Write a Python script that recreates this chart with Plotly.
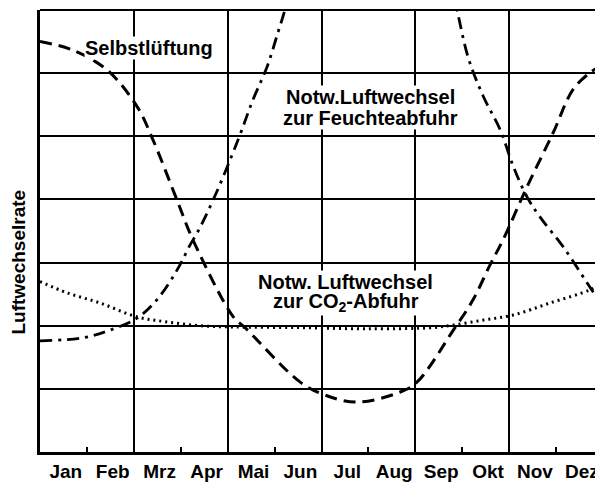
import plotly.graph_objects as go

months = ["Jan", "Feb", "Mrz", "Apr", "Mai", "Jun", "Jul", "Aug", "Sep", "Okt", "Nov", "Dez"]

# Selbstlüftung (natural ventilation)
selbst_x = [0.0, 0.68, 1.43, 2.07, 2.41, 2.92, 3.26, 4.12, 4.37, 5.54, 6.08, 6.76, 7.68, 8.04, 8.81, 9.23, 9.59, 9.87, 10.38, 10.94, 11.36, 11.73, 12.0]
selbst_y = [6.50, 6.37, 6.05, 5.47, 4.94, 3.99, 3.36, 2.14, 1.97, 1.11, 0.90, 0.79, 0.95, 1.11, 1.93, 2.41, 2.96, 3.36, 4.20, 5.06, 5.74, 6.01, 6.13]

# Notw. Luftwechsel zur Feuchteabfuhr (two visible branches)
feucht1_x = [0.0, 0.92, 1.49, 2.07, 2.49, 2.92, 3.20, 3.35, 3.69, 4.22, 4.54, 4.84, 5.07, 5.22, 5.32]
feucht1_y = [1.76, 1.81, 1.93, 2.12, 2.41, 2.88, 3.28, 3.47, 3.99, 4.94, 5.58, 6.10, 6.64, 7.00, 7.30]
feucht2_x = [8.80, 8.89, 9.13, 9.45, 9.81, 10.09, 10.38, 10.66, 11.15, 11.66, 12.0]
feucht2_y = [7.30, 7.00, 6.24, 5.63, 5.10, 4.52, 4.04, 3.72, 3.25, 2.68, 2.30]

# Notw. Luftwechsel zur CO2-Abfuhr
co2_x = [0.0, 0.58, 1.28, 2.07, 2.71, 3.41, 4.12, 5.54, 6.97, 8.38, 8.81, 9.45, 10.09, 10.87, 11.73, 12.0]
co2_y = [2.70, 2.52, 2.36, 2.14, 2.06, 2.00, 1.98, 1.97, 1.95, 1.97, 2.01, 2.09, 2.17, 2.36, 2.57, 2.69]

month_pos = [i + 0.55 for i in range(12)]
grid_x = [0, 2, 4, 6, 8, 10, 12]
small_ticks = [1, 3, 5, 7, 9, 11]

FONT = "Liberation Sans"
fig = go.Figure()

fig.add_trace(go.Scatter(x=selbst_x, y=selbst_y, mode="lines", line_shape="spline",
                         line=dict(color="black", width=3, dash="12px,7px")))
fig.add_trace(go.Scatter(x=feucht1_x, y=feucht1_y, mode="lines", line_shape="spline",
                         line=dict(color="black", width=2.8, dash="12px,6px,3px,6px")))
fig.add_trace(go.Scatter(x=feucht2_x, y=feucht2_y, mode="lines", line_shape="spline",
                         line=dict(color="black", width=2.8, dash="12px,6px,3px,6px")))
fig.add_trace(go.Scatter(x=co2_x, y=co2_y, mode="lines", line_shape="spline",
                         line=dict(color="black", width=3, dash="2px,4px")))
# invisible trace to drive the tick-only overlay axis
fig.add_trace(go.Scatter(x=[0, 12], y=[0, 0], xaxis="x2", mode="lines",
                         line=dict(width=0), hoverinfo="skip"))

fig.update_layout(
    width=595, height=480,
    margin=dict(l=32, r=0, t=2, b=36, autoexpand=False),
    paper_bgcolor="white", plot_bgcolor="white",
    showlegend=False,
    font=dict(family=FONT, color="black"),
    xaxis=dict(range=[0, 12], tickvals=month_pos, ticktext=["<b>%s</b>" % m for m in months],
               ticks="", tickfont=dict(size=19, family=FONT), showgrid=False,
               minor=dict(tickvals=grid_x, showgrid=True, gridcolor="black", gridwidth=1.8, ticks=""),
               showline=True, linecolor="black", linewidth=3, mirror=False, zeroline=False,
               ticklabelstandoff=0, automargin=False),
    xaxis2=dict(range=[0, 12], overlaying="x", side="bottom", tickvals=small_ticks,
                ticks="inside", ticklen=5, tickwidth=2, tickcolor="black",
                showticklabels=False, showgrid=False, zeroline=False, showline=False),
    yaxis=dict(range=[0, 7], dtick=1, showticklabels=False, ticks="",
               showgrid=True, gridcolor="black", gridwidth=1.8, zeroline=False,
               showline=True, linecolor="black", linewidth=3, mirror=False,
               title=None, automargin=False),
    shapes=[dict(type="line", xref="paper", yref="paper", x0=0, x1=1, y0=1, y1=1,
                 line=dict(color="black", width=2))],
)

ann_font = dict(family=FONT, size=20, color="black")
annots = [
    ("<b>Selbstlüftung</b>", 2.32, 6.40),
    ("<b>Notw.Luftwechsel</b>", 7.04, 5.62),
    ("<b>zur Feuchteabfuhr</b>", 7.04, 5.29),
    ("<b>Notw. Luftwechsel</b>", 6.52, 2.70),
    ("<b>zur CO<sub>2</sub>-Abfuhr</b>", 6.52, 2.36),
]
for text, ax_, ay_ in annots:
    fig.add_annotation(x=ax_, y=ay_, text=text, showarrow=False, font=ann_font,
                       bgcolor="white", borderpad=0)

fig.add_annotation(xref="paper", yref="paper", x=-0.038, y=0.43, text="<b>Luftwechselrate</b>",
                   textangle=-90, showarrow=False, font=dict(family=FONT, size=19, color="black"),
                   xanchor="center", yanchor="middle")

fig.write_html("out.html")
